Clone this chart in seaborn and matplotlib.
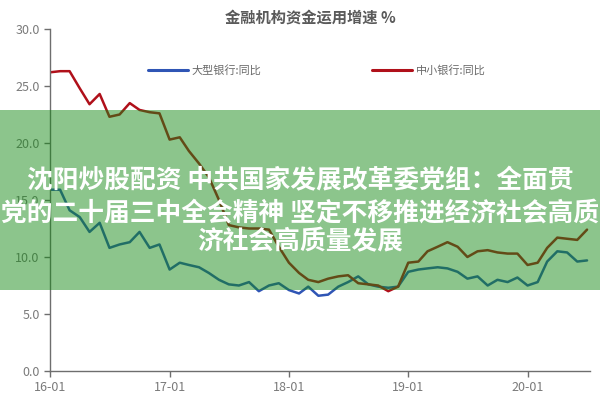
import numpy as np
import pandas as pd
import seaborn as sns
import matplotlib.pyplot as plt
import matplotlib.dates as mdates
from matplotlib.patches import Rectangle

# monthly growth, 2016-01 .. 2020-07 (%)
months = pd.date_range("2016-01-01", periods=55, freq="MS")
large_banks = [15.9, 15.9, 14.1, 13.5, 12.2, 13.0, 10.8, 11.1, 11.3, 12.2,
               10.8, 11.1, 8.9, 9.5, 9.3, 9.1, 8.6, 8.0, 7.6, 7.5,
               7.8, 7.0, 7.5, 7.7, 7.1, 6.8, 7.4, 6.6, 6.7, 7.4,
               7.8, 8.3, 7.6, 7.4, 7.3, 7.4, 8.7, 8.9, 9.0, 9.1,
               9.0, 8.7, 8.1, 8.3, 7.5, 8.0, 7.8, 8.2, 7.5, 7.8,
               9.6, 10.5, 10.4, 9.6, 9.7]
small_banks = [26.2, 26.3, 26.3, 24.8, 23.4, 24.3, 22.3, 22.5, 23.5, 22.9,
               22.7, 22.6, 20.3, 20.5, 19.3, 18.2, 17.0, 15.0, 12.8, 12.6,
               12.5, 12.5, 12.4, 10.9, 9.5, 8.6, 8.0, 7.8, 8.1, 8.3,
               8.4, 7.7, 7.6, 7.5, 7.0, 7.4, 9.5, 9.6, 10.5, 10.9,
               11.3, 10.9, 10.0, 10.5, 10.6, 10.4, 10.3, 10.3, 9.3, 9.5,
               10.8, 11.7, 11.6, 11.5, 12.4]
series_names = ["大型银行:同比", "中小银行:同比"]
colors = ["#2f55b5", "#b0101a"]

title = "金融机构资金运用增速 %"
banner_lines = ["沈阳炒股配资 中共国家发展改革委党组：全面贯",
                "党的二十届三中全会精神 坚定不移推进经济社会高质",
                "济社会高质量发展"]

df = pd.DataFrame({
    "month": np.concatenate([months, months]),
    "value": large_banks + small_banks,
    "series": [series_names[0]] * len(months) + [series_names[1]] * len(months),
})

sns.set_style("white")
plt.rcParams["font.family"] = ["Noto Sans CJK SC", "DejaVu Sans"]

fig = plt.figure(figsize=(6, 4), dpi=100)
ax = fig.add_axes([0.0833, 0.0725, 0.9, 0.855])

sns.lineplot(data=df, x="month", y="value", hue="series", palette=colors,
             linewidth=1.8, ax=ax, legend=False)

ax.set_ylim(0, 30)
ax.set_yticks(np.arange(0, 31, 5))
ax.yaxis.set_major_formatter(plt.FuncFormatter(lambda v, p: f"{v:.1f}"))
ax.set_xlim(pd.Timestamp("2016-01-01"), pd.Timestamp("2020-07-10"))
ax.xaxis.set_major_locator(mdates.YearLocator())
ax.xaxis.set_major_formatter(mdates.DateFormatter("%y-%m"))
ax.set_xlabel("")
ax.set_ylabel("")
sns.despine(ax=ax)
for side in ["left", "bottom"]:
    ax.spines[side].set_color("#6e6e6e")
    ax.spines[side].set_linewidth(1.0)
ax.tick_params(axis="both", colors="#6e6e6e", labelcolor="#7a7a7a",
               labelsize=9, length=4, width=1, direction="out",
               left=True, bottom=True)

fig.text(0.517, 0.955, title, ha="center", va="center", fontsize=11,
         fontweight="bold", color="#5a5a5a")

handles = [plt.Line2D([], [], color=c, linewidth=2.2) for c in colors]
fig.legend(handles, series_names, loc="center", bbox_to_anchor=(0.528, 0.825),
           ncol=2, frameon=False, fontsize=8, handlelength=3.6,
           columnspacing=10, handletextpad=0.3, labelcolor="#6a6a6a")

# translucent green banner over the chart
fig.add_artist(Rectangle((0, 1 - 290 / 400), 1, 180 / 400,
                         transform=fig.transFigure, facecolor=(20 / 255, 137 / 255, 20 / 255),
                         alpha=0.49, edgecolor="none", zorder=10))
for y_px, line in zip([181, 213, 242], banner_lines):
    fig.text(0.5, 1 - y_px / 400, line, ha="center", va="center", fontsize=18.5,
             fontweight="bold", color="white", zorder=11)

fig.savefig("out.png", dpi=100)
